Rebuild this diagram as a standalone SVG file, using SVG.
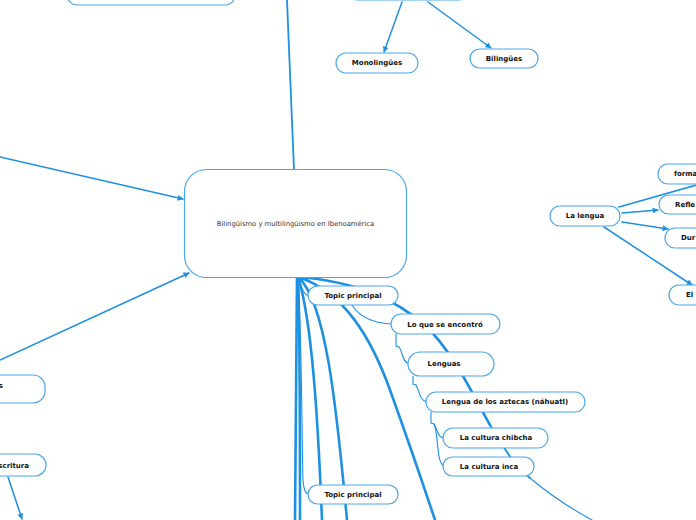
<svg xmlns="http://www.w3.org/2000/svg" width="696" height="520" viewBox="0 0 696 520">
<defs>
<marker id="ah" viewBox="0 0 10 10" refX="9" refY="5" markerWidth="6" markerHeight="6" orient="auto" markerUnits="userSpaceOnUse">
<path d="M0,0 L10,5 L0,10 z" fill="#1e90e0"/>
</marker>
<style>
.n rect{fill:#fff;stroke:#4aa7e8;stroke-width:1.2}
.n text{font-family:"DejaVu Sans",Verdana,sans-serif;font-size:7px;font-weight:bold;fill:#111;text-anchor:middle;dominant-baseline:central}
.c path,.c line{fill:none;stroke:#1e90e0;stroke-linecap:round}
.a{stroke-width:1.5;marker-end:url(#ah)}
.t{stroke-width:2.6}
.m{stroke-width:1.8}
.s{stroke-width:1.1}
</style>
</defs>
<rect width="696" height="520" fill="#fff"/>
<g class="c" id="connectors">
<line class="m" x1="287" y1="0" x2="294" y2="170"/>
<line class="a" x1="402" y1="2" x2="384" y2="52"/>
<line class="a" x1="428" y1="2" x2="491" y2="48"/>
<line class="a" x1="0" y1="157" x2="183" y2="199"/>
<line class="a" x1="0" y1="360" x2="189" y2="273"/>
<line class="a" x1="8" y1="477" x2="22" y2="519"/>
<line class="m" x1="619" y1="207" x2="700" y2="184"/>
<line class="a" x1="622" y1="213" x2="658" y2="210"/>
<line class="a" x1="622" y1="222" x2="668" y2="229"/>
<line class="a" x1="604" y1="227" x2="692" y2="285"/>
<path class="t" d="M297,277 L295,520"/>
<path class="t" d="M298,277 C300,330 300,450 300,520"/>
<path class="s" d="M298,277 C302,340 302,460 303,480 C304,490 305,494 309,494"/>
<path class="t" d="M298,277 C312,320 318,420 322,520"/>
<path class="t" d="M298,277 C325,300 336,400 347,520"/>
<path class="t" d="M298,277 C345,292 372,340 390,390 S425,490 435,520"/>
<path class="t" d="M298,277 C360,282 395,300 425,325 C455,355 470,390 490,425"/>
<path class="m" d="M490,425 C505,450 515,466 530,478"/>
<path class="s" d="M530,478 C550,495 570,508 592,520"/>
<path class="s" d="M298,277 C302,290 304,295 309,296"/>
<path class="s" d="M352,305 C360,318 375,323 391,324"/>
<path class="s" d="M396,334 L396,346 L399,347 C403,352 402,362 409,364"/>
<path class="s" d="M413,376 L413,384 L416,385 C420,392 419,400 427,402"/>
<path class="s" d="M431,412 L431,423 L434,424 C438,430 437,437 444,438"/>
<path class="s" d="M434,424 C439,436 436,462 444,466"/>
</g>
<g class="n" id="n-topleft"><rect x="67" y="-30" width="168" height="35" rx="10"/></g>
<g class="n" id="n-topcenter"><rect x="348" y="-25" width="120" height="25" rx="10"/></g>
<g class="n" id="n-mono"><rect x="336" y="53" width="82" height="20" rx="10"/><text x="377" y="63">Monolingües</text></g>
<g class="n" id="n-bili"><rect x="470" y="49" width="68" height="19" rx="9.5"/><text x="504" y="59">Bilingües</text></g>
<g class="n" id="n-center"><rect x="184.5" y="169.5" width="222" height="108" rx="22"/><text x="295.5" y="224" style="font-weight:normal;fill:#333;font-size:6.8px">Bilingüismo y multilingüismo en Ibenoamérica</text></g>
<g class="n" id="n-lengua"><rect x="550" y="206" width="70" height="20" rx="10"/><text x="585" y="216">La lengua</text></g>
<g class="n" id="n-forma"><rect x="658" y="164" width="80" height="20" rx="10"/><text x="674" y="174" style="text-anchor:start">forma</text></g>
<g class="n" id="n-refle"><rect x="659" y="195" width="80" height="19" rx="9.5"/><text x="675" y="205" style="text-anchor:start">Refle</text></g>
<g class="n" id="n-dur"><rect x="665" y="228" width="80" height="20" rx="10"/><text x="681" y="238" style="text-anchor:start">Dur</text></g>
<g class="n" id="n-el"><rect x="669" y="285" width="80" height="20" rx="10"/><text x="686" y="295" style="text-anchor:start">El</text></g>
<g class="n" id="n-left1"><rect x="-60" y="375" width="105" height="28" rx="12"/><text x="3" y="386" style="text-anchor:end">s</text></g>
<g class="n" id="n-left2"><rect x="-60" y="454" width="106" height="22" rx="11"/><text x="29" y="466" style="text-anchor:end">scritura</text></g>
<g class="n" id="n-topic1"><rect x="308" y="286" width="90" height="19" rx="9.5"/><text x="353" y="296">Topic principal</text></g>
<g class="n" id="n-loque"><rect x="391" y="314" width="109" height="20" rx="10"/><text x="445" y="324.5">Lo que se encontró</text></g>
<g class="n" id="n-lenguas"><rect x="408" y="352" width="86" height="24" rx="12"/><text x="444" y="364">Lenguas</text></g>
<g class="n" id="n-aztecas"><rect x="426" y="392" width="159" height="20" rx="10"/><text x="505" y="402">Lengua de los aztecas (náhuatl)</text></g>
<g class="n" id="n-chibcha"><rect x="443" y="428" width="105" height="20" rx="10"/><text x="496" y="438">La cultura chibcha</text></g>
<g class="n" id="n-inca"><rect x="443" y="457" width="91" height="19" rx="9.5"/><text x="489" y="467">La cultura inca</text></g>
<g class="n" id="n-topic2"><rect x="308" y="485" width="90" height="19" rx="9.5"/><text x="353" y="495">Topic principal</text></g>
</svg>
